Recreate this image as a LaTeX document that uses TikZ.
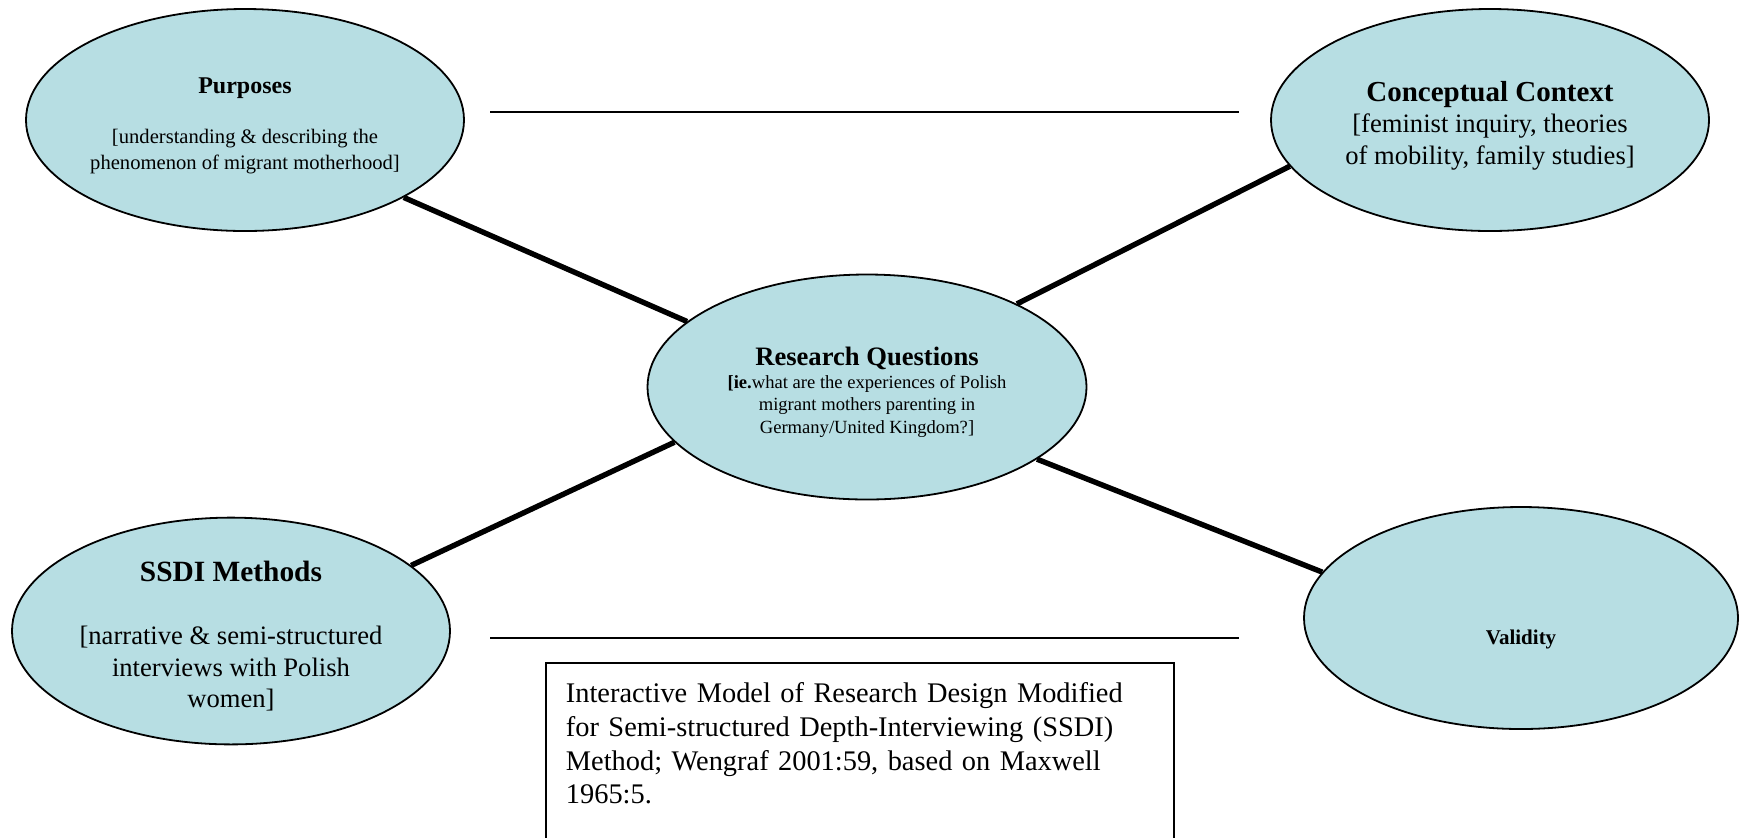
\documentclass[tikz,border=0pt]{standalone}
\usepackage{fontspec}
\setmainfont{Liberation Serif}
\usepackage{xcolor}
\usetikzlibrary{shapes.geometric}
\definecolor{bubble}{RGB}{183,222,227}
\newcommand\toppad[1]{\rule{0pt}{#1}}

\begin{document}
\begin{tikzpicture}[x=0.5pt,y=-0.5pt,
    bub/.style={ellipse,draw,line width=0.9pt,fill=bubble,inner sep=0pt,align=center,
      minimum width=219pt,minimum height=111pt},
    link/.style={line width=2.7pt},
    flat/.style={line width=0.8pt},
    caption/.style={draw,line width=0.9pt,fill=white,anchor=north west,align=left,
      text width=294pt,inner xsep=10pt,inner ysep=10pt,font=\fontsize{14.2}{16.8}\selectfont}]
      \useasboundingbox (0,0) rectangle (1739,837);

      \node[bub,font=\fontsize{10.3}{13}\selectfont] (P) at (245,120)
        {\toppad{13.4pt}{\fontsize{12}{13}\selectfont\bfseries Purposes}\\[12pt]
         {[}understanding \& describing the\\ phenomenon of migrant motherhood]};
      \node[bub,font=\fontsize{13.3}{15.75}\selectfont] (C) at (1490,120)
        {\toppad{15.4pt}{\fontsize{14.5}{15.75}\selectfont\bfseries Conceptual Context}\\
         {[}feminist inquiry, theories\\ of mobility, family studies]};
      \node[bub,minimum width=219.5pt,minimum height=112.5pt,font=\fontsize{9.3}{11.2}\selectfont] (RQ) at (867,387)
        {\toppad{14.5pt}{\fontsize{13.3}{11.5}\selectfont\bfseries Research Questions}\\
         \textbf{[ie.}what are the experiences of Polish\\ migrant mothers parenting in\\ Germany/United Kingdom?]};
      \node[bub,font=\fontsize{13.3}{15.75}\selectfont] (M) at (231,631)
        {\toppad{15.4pt}{\fontsize{14.7}{15.75}\selectfont\bfseries SSDI Methods}\\[15.75pt]
         {[}narrative \& semi-structured\\ interviews with Polish\\ women]};
      \node[bub,minimum width=217pt,font=\fontsize{10.5}{12}\selectfont\bfseries] (V) at (1521,618)
        {\raisebox{-13pt}[0pt][0pt]{Validity}};

      \draw[link] (P.-26) -- (RQ.160);
      \draw[link] (C.-167) -- (RQ.29);
      \draw[link] (M.20) -- (RQ.-164);
      \draw[link] (RQ.-23) -- (V.167);

      \coordinate (t1) at (490,112);
      \coordinate (t2) at (1239,112);
      \coordinate (b1) at (490,638);
      \coordinate (b2) at (1239,638);
      \draw[flat] (t1) -- (t2);
      \draw[flat] (b1) -- (b2);

      \node[caption] (note) at (545,662)
        {Interactive Model of Research Design Modified\\
         for Semi-structured Depth-Interviewing (SSDI)\\
         Method; Wengraf 2001:59, based on Maxwell\\
         1965:5.\\ \mbox{}};
    \end{tikzpicture}
\end{document}
